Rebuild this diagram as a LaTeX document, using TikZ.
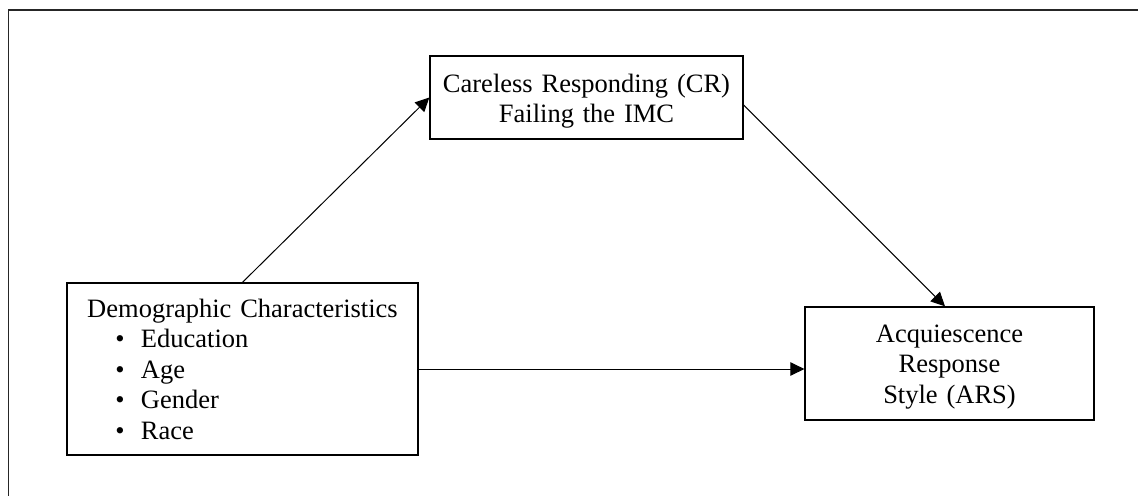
\documentclass[tikz,border=0pt]{standalone}
\usepackage{fontspec}
\setmainfont{Liberation Serif}
\usetikzlibrary{arrows.meta}
\begin{document}
\begin{tikzpicture}[x=1pt,y=-1pt,
  box/.style={draw=black, line width=1.3pt, inner sep=0pt, fill=white,
    font=\fontsize{26.5}{30.5}\selectfont},
  conn/.style={draw=black, line width=1pt, -{Triangle[length=14pt,width=13.5pt]}},
  frameline/.style={draw=black!85, line width=1.8pt}]
\useasboundingbox (0,0) rectangle (1138,496);
\coordinate (ftr) at (1138,10);
\coordinate (ftl) at (8.5,10);
\coordinate (fbl) at (8.5,496);
\draw[frameline] (ftr) -- (ftl) -- (fbl);

\node[box, text width=313pt, align=center, minimum height=83pt,
      text height=20pt, text depth=31pt] (cr) at (586.5,97.5)
  {Careless Responding (CR)\\Failing the IMC};

\node[box, text width=289pt, align=center, minimum height=113pt,
      text height=20pt, text depth=63pt] (ars) at (949.5,363.5)
  {Acquiescence\\Response\\Style (ARS)};

\node[box, text width=351pt, align=left, minimum height=172pt,
      text height=20pt, text depth=124pt] (demo) at (242.5,369)
  {\makebox[351pt]{Demographic Characteristics}\\
   \hspace*{48.4pt}\makebox[25.6pt][l]{\textbullet}Education\\
   \hspace*{48.4pt}\makebox[25.6pt][l]{\textbullet}Age\\
   \hspace*{48.4pt}\makebox[25.6pt][l]{\textbullet}Gender\\
   \hspace*{48.4pt}\makebox[25.6pt][l]{\textbullet}Race};

\draw[conn] (demo.north) -- (cr.west);
\draw[conn] ([yshift=-7.5pt]cr.east) -- ([xshift=-4.5pt]ars.north);
\draw[conn] (demo.east) -- (ars.west |- demo.east);
\end{tikzpicture}
\end{document}
